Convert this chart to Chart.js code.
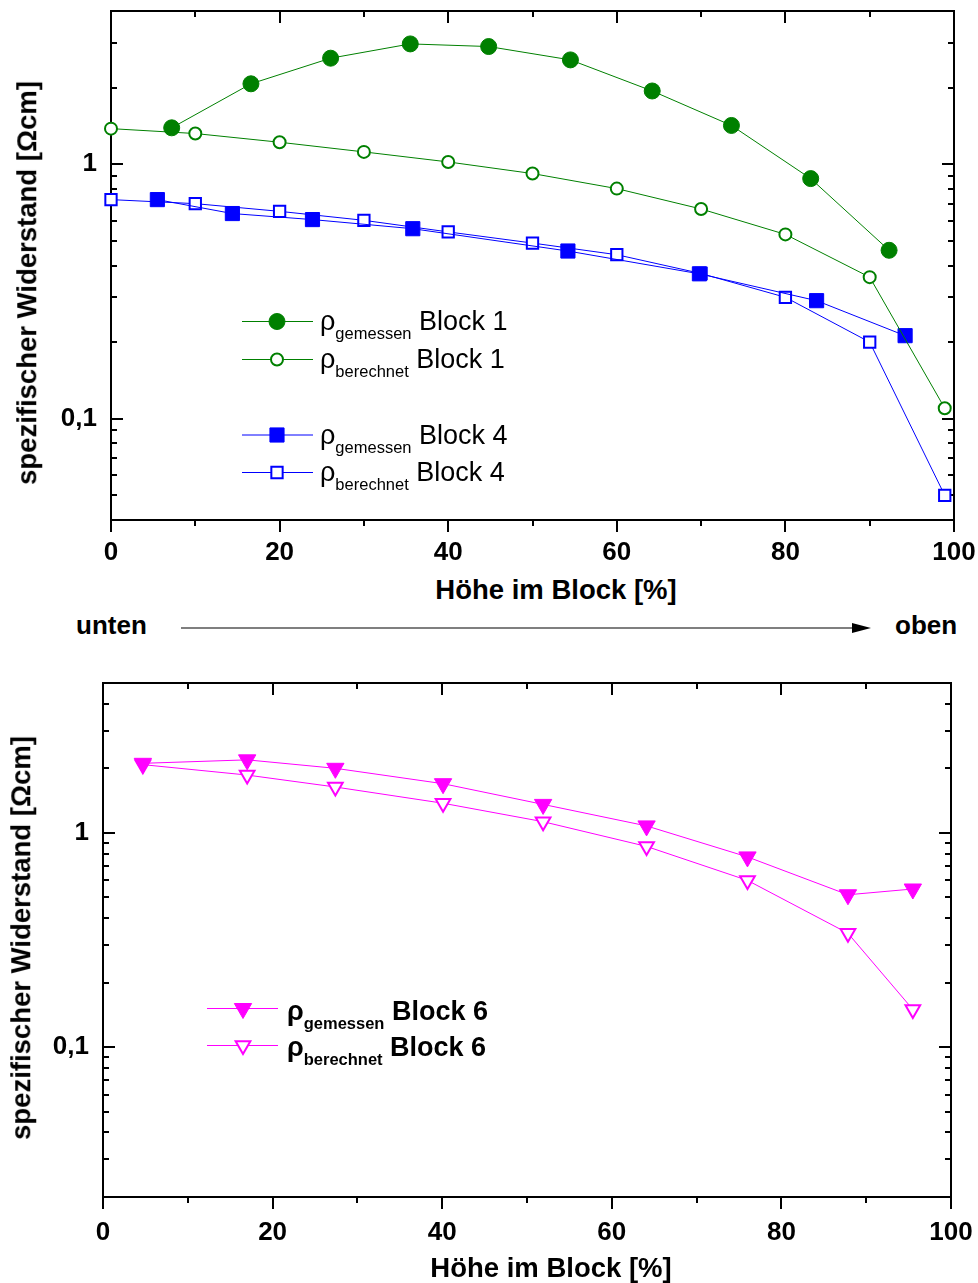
<!DOCTYPE html>
<html lang="de">
<head>
<meta charset="utf-8">
<title>Spezifischer Widerstand über der Blockhöhe</title>
<script src="https://cdn.jsdelivr.net/npm/chart.js@4.4.1/dist/chart.umd.min.js"></script>
<style>
  html, body { margin: 0; padding: 0; background: #fff; }
  #page { position: relative; width: 978px; height: 1283px; overflow: hidden;
          font-family: "Liberation Sans", Arial, Helvetica, sans-serif; color: #000; }
  canvas { position: absolute; left: 0; }
  #c1 { top: 0; }
  #c2 { top: 640px; }
  .t { position: absolute; white-space: nowrap; font-size: 26px; line-height: 26px; }
  .lg { position: absolute; white-space: nowrap; font-size: 27px; line-height: 27px; }
  .b { font-weight: bold; }
  .sub { font-size: 16.5px; vertical-align: -9px; }
  .ytitle { position: absolute; white-space: nowrap; font-size: 27.5px; line-height: 27.5px; font-weight: bold;
            transform: translate(-50%, -50%) rotate(-90deg); }
  .xtitle { position: absolute; white-space: nowrap; font-size: 27.5px; line-height: 27.5px; font-weight: bold;
            transform: translateX(-50%); }
  #arrow { position: absolute; left: 0; top: 618px; }
</style>
</head>
<body>
<div id="page">
  <canvas id="c1" width="978" height="570"></canvas>
  <canvas id="c2" width="978" height="615"></canvas>

  <!-- axis titles -->
  <div class="ytitle" style="left:27px; top:283px;">spezifischer Widerstand [Ωcm]</div>
  <div class="xtitle" style="left:556px; top:576px;">Höhe im Block [%]</div>
  <div class="ytitle" style="left:21px; top:938px;">spezifischer Widerstand [Ωcm]</div>
  <div class="xtitle" style="left:551px; top:1254px;">Höhe im Block [%]</div>

  <!-- legend, upper panel -->
  <div class="lg" style="left:320px; top:308px;">ρ<span class="sub">gemessen</span> Block 1</div>
  <div class="lg" style="left:320px; top:346px;">ρ<span class="sub">berechnet</span> Block 1</div>
  <div class="lg" style="left:320px; top:422px;">ρ<span class="sub">gemessen</span> Block 4</div>
  <div class="lg" style="left:320px; top:459px;">ρ<span class="sub">berechnet</span> Block 4</div>

  <!-- legend, lower panel -->
  <div class="lg b" style="left:287px; top:998px;">ρ<span class="sub">gemessen</span> Block 6</div>
  <div class="lg b" style="left:287px; top:1034px;">ρ<span class="sub">berechnet</span> Block 6</div>

  <!-- direction hint between the panels -->
  <div class="t b" style="left:76px; top:612px;">unten</div>
  <div class="t b" style="left:895px; top:612px;">oben</div>
  <svg id="arrow" width="978" height="20" viewBox="0 0 978 20">
    <line x1="181" y1="10" x2="856" y2="10" stroke="#000" stroke-width="1.2"/>
    <polygon points="852,5 871,10 852,15" fill="#000"/>
  </svg>
</div>

<script>
// Height in the block [%] and specific resistance [Ohm cm]
// Block 1, measured
const b1MeasX = [7.2, 16.6, 26.05, 35.5, 44.8, 54.5, 64.2, 73.6, 83.0, 92.3];
const b1MeasY = [1.39, 2.07, 2.61, 2.97, 2.90, 2.57, 1.94, 1.42, 0.878, 0.459];
// Block 1, calculated
const b1CalcX = [0, 10, 20, 30, 40, 50, 60, 70, 80, 90, 98.9];
const b1CalcY = [1.38, 1.32, 1.22, 1.118, 1.021, 0.919, 0.802, 0.667, 0.53, 0.36, 0.11];
// Block 4, measured
const b4MeasX = [5.5, 14.4, 23.9, 35.8, 54.2, 69.8, 83.7, 94.2];
const b4MeasY = [0.726, 0.64, 0.606, 0.558, 0.456, 0.371, 0.291, 0.212];
// Block 4, calculated
const b4CalcX = [0, 10, 20, 30, 40, 50, 60, 70, 80, 90, 98.9];
const b4CalcY = [0.726, 0.70, 0.653, 0.602, 0.542, 0.49, 0.441, 0.372, 0.30, 0.20, 0.050];
// Block 6, measured
const b6MeasX = [4.7, 17.0, 27.4, 40.1, 51.9, 64.1, 76.0, 87.85, 95.5];
const b6MeasY = [2.11, 2.19, 2.00, 1.695, 1.357, 1.077, 0.772, 0.514, 0.547];
// Block 6, calculated
const b6CalcX = [4.7, 17.0, 27.4, 40.1, 51.9, 64.1, 76.0, 87.85, 95.5];
const b6CalcY = [2.08, 1.86, 1.636, 1.374, 1.127, 0.864, 0.600, 0.340, 0.150];

// Axis ticks
const xTicks = [0, 10, 20, 30, 40, 50, 60, 70, 80, 90, 100];
const xTickLabels = ['0', '', '20', '', '40', '', '60', '', '80', '', '100'];
const yTicksTop = [0.04, 0.05, 0.06, 0.07, 0.08, 0.09, 0.1, 0.2, 0.3, 0.4, 0.5, 0.6, 0.7, 0.8, 0.9, 1, 2, 3, 4];
const yTicksBottom = [0.02, 0.03, 0.04, 0.05, 0.06, 0.07, 0.08, 0.09, 0.1, 0.2, 0.3, 0.4, 0.5, 0.6, 0.7, 0.8, 0.9, 1, 2, 3, 4, 5];
const yTickLabels = { '0.1': '0,1', '1': '1' };
const decades = [0.01, 0.1, 1, 10];

const GREEN = '#008000', BLUE = '#0000ff', MAGENTA = '#ff00ff';
const FONT = { family: '"Liberation Sans", Arial, sans-serif', size: 26, weight: 'bold' };

const pts = (xs, ys) => xs.map((x, i) => ({ x: x, y: ys[i] }));

function series(label, xs, ys, color, style, radius, filled, rotation) {
  return {
    label: label,
    data: pts(xs, ys),
    borderColor: color,
    borderWidth: 1,
    showLine: true,
    tension: 0,
    fill: false,
    clip: false,
    pointStyle: style,
    pointRadius: radius,
    pointRotation: rotation || 0,
    pointBackgroundColor: filled ? color : '#ffffff',
    pointBorderColor: color,
    pointBorderWidth: filled ? 1 : 2
  };
}

// Box frame with inward ticks on left/top/right and outward ticks at the bottom
const frameTicks = {
  id: 'frameTicks',
  beforeDatasetsDraw(chart, args, o) {
    const { ctx, chartArea: a } = chart;
    const x = chart.scales.x, y = chart.scales.y;
    ctx.save();
    ctx.strokeStyle = '#000';
    ctx.lineWidth = 2;
    ctx.beginPath();
    xTicks.forEach((v, i) => {
      const px = Math.round(x.getPixelForValue(v));
      const len = xTickLabels[i] ? 12 : 6;
      ctx.moveTo(px, a.bottom); ctx.lineTo(px, a.bottom + len);
      ctx.moveTo(px, a.top); ctx.lineTo(px, a.top + len);
    });
    o.yTicks.forEach(v => {
      const py = Math.round(y.getPixelForValue(v));
      const len = decades.includes(v) ? 12 : 6;
      ctx.moveTo(a.left, py); ctx.lineTo(a.left + len, py);
      ctx.moveTo(a.right, py); ctx.lineTo(a.right - len, py);
    });
    ctx.stroke();
    ctx.strokeRect(a.left, a.top, a.right - a.left, a.bottom - a.top);
    ctx.restore();
  }
};

// Line-and-symbol samples for the legend texts
const legendSamples = {
  id: 'legendSamples',
  afterDraw(chart, args, o) {
    if (!o || !o.rows) return;
    const ctx = chart.ctx;
    o.rows.forEach(r => {
      const ds = chart.data.datasets[r.ds];
      ctx.save();
      ctx.strokeStyle = ds.borderColor;
      ctx.lineWidth = 1;
      ctx.beginPath();
      ctx.moveTo(o.x1, r.y); ctx.lineTo(o.x2, r.y);
      ctx.stroke();
      ctx.fillStyle = ds.pointBackgroundColor;
      ctx.strokeStyle = ds.pointBorderColor;
      ctx.lineWidth = ds.pointBorderWidth;
      Chart.helpers.drawPoint(ctx, {
        pointStyle: ds.pointStyle,
        rotation: ds.pointRotation,
        radius: ds.pointRadius,
        borderWidth: ds.pointBorderWidth
      }, o.xm, r.y);
      ctx.restore();
    });
  }
};

// keep the plot box exactly where the layout padding puts it
function noScalePadding(s) {
  s.paddingLeft = 0; s.paddingRight = 0; s.paddingTop = 0; s.paddingBottom = 0;
}

function scales(yTicks, yMin, yMax, yWidth, xHeight, xPad) {
  return {
    x: {
      type: 'linear', min: 0, max: 100,
      afterBuildTicks: s => { s.ticks = xTicks.map(v => ({ value: v })); },
      afterFit: s => { s.height = xHeight; noScalePadding(s); },
      ticks: {
        callback: (v, i) => xTickLabels[i],
        font: FONT, color: '#000', padding: xPad, autoSkip: false, maxRotation: 0
      },
      grid: { display: false, drawTicks: false },
      border: { display: false }
    },
    y: {
      type: 'logarithmic', min: yMin, max: yMax,
      afterBuildTicks: s => { s.ticks = yTicks.map(v => ({ value: v })); },
      afterFit: s => { s.width = yWidth; noScalePadding(s); },
      ticks: {
        callback: v => (yTickLabels[String(v)] !== undefined ? yTickLabels[String(v)] : ''),
        font: FONT, color: '#000', padding: 14, autoSkip: false
      },
      grid: { display: false, drawTicks: false },
      border: { display: false }
    }
  };
}

new Chart(document.getElementById('c1'), {
  type: 'line',
  data: {
    datasets: [
      series('ρ gemessen Block 1', b1MeasX, b1MeasY, GREEN, 'circle', 8, true),
      series('ρ berechnet Block 1', b1CalcX, b1CalcY, GREEN, 'circle', 6, false),
      series('ρ gemessen Block 4', b4MeasX, b4MeasY, BLUE, 'rect', 10, true),
      series('ρ berechnet Block 4', b4CalcX, b4CalcY, BLUE, 'rect', 8, false)
    ]
  },
  options: {
    responsive: false,
    animation: false,
    layout: { padding: { left: 0, top: 11, right: 24, bottom: 0 } },
    scales: scales(yTicksTop, 0.04, 4, 111, 50, 17),
    plugins: {
      legend: { display: false },
      tooltip: { enabled: false },
      frameTicks: { yTicks: yTicksTop },
      legendSamples: { x1: 242, x2: 313, xm: 277, rows: [
        { ds: 0, y: 321.5 }, { ds: 1, y: 359.5 }, { ds: 2, y: 435 }, { ds: 3, y: 472.5 }
      ] }
    }
  },
  plugins: [frameTicks, legendSamples]
});

new Chart(document.getElementById('c2'), {
  type: 'line',
  data: {
    datasets: [
      series('ρ gemessen Block 6', b6MeasX, b6MeasY, MAGENTA, 'triangle', 10, true, 180),
      series('ρ berechnet Block 6', b6CalcX, b6CalcY, MAGENTA, 'triangle', 8.5, false, 180)
    ]
  },
  options: {
    responsive: false,
    animation: false,
    layout: { padding: { left: 0, top: 43, right: 27, bottom: 0 } },
    scales: scales(yTicksBottom, 0.02, 5, 103, 58, 20),
    plugins: {
      legend: { display: false },
      tooltip: { enabled: false },
      frameTicks: { yTicks: yTicksBottom },
      legendSamples: { x1: 207, x2: 278, xm: 243, rows: [
        { ds: 0, y: 368.5 }, { ds: 1, y: 405.5 }
      ] }
    }
  },
  plugins: [frameTicks, legendSamples]
});
</script>
</body>
</html>
